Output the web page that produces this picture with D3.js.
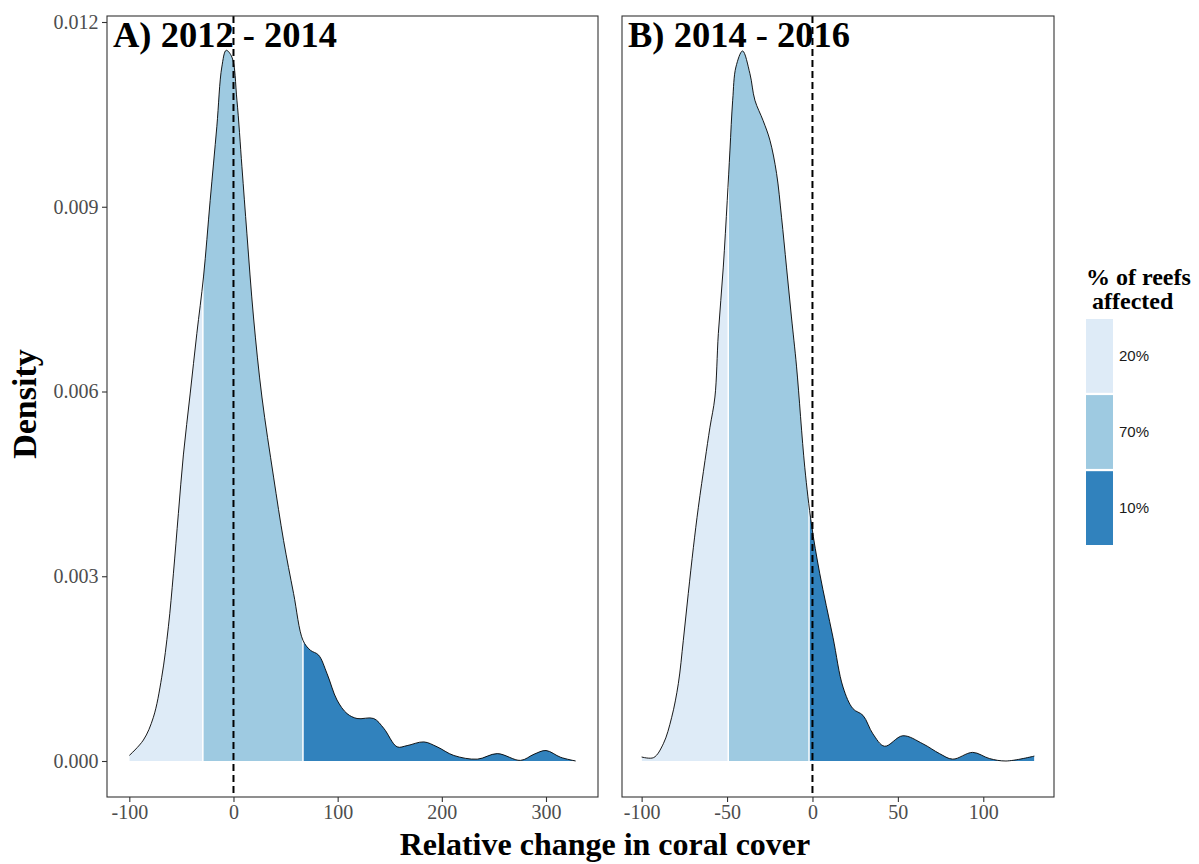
<html>
  <head>
    <style>
      body { margin: 0; background: #fff; }
      svg text { font-family: "Liberation Serif", "Times New Roman", serif; }
    </style>
  </head>
  <body>
    <svg></svg>
    <script src="https://d3js.org/d3.v7.min.js"></script>
    <script>
      let width = 1199,
        height = 864;

      // data
      const categories = ["20%", "70%", "10%"];
      const colors = ["#deebf7", "#9ecae1", "#3182bd"];
      const titles = ["A) 2012 - 2014", "B) 2014 - 2016"];
      const yTicks = [0, 0.003, 0.006, 0.009, 0.012];
      const xTicksA = [-100, 0, 100, 200, 300];
      const xTicksB = [-100, -50, 0, 50, 100];

      const changeA = [-100, -86.5, -76.9, -68.9, -62.5, -57.7, -52.9, -48.1, -41.6, -35.2,
        -28.8, -22.4, -16, -11.2, -7, -1.5, 3.3, 8.1, 12.9, 19.2, 27.3, 38.5, 48.1, 57.7,
        66.7, 73.7, 81.7, 89.8, 99.4, 109, 118.6, 134.6, 144.3, 157.1, 166.7, 182.7, 195.5,
        211.5, 234, 253.2, 275.6, 288.5, 300, 314.1, 328.5];
      const densityA = [0.00009, 0.00034, 0.00071, 0.00136, 0.00218, 0.00304, 0.00402,
        0.00497, 0.00596, 0.00694, 0.00786, 0.0091, 0.0103, 0.01127, 0.01154, 0.01143,
        0.01073, 0.00965, 0.00856, 0.00721, 0.00591, 0.00461, 0.00358, 0.00272, 0.00196,
        0.0018, 0.00172, 0.00142, 0.00099, 0.00077, 0.00069, 0.00069, 0.00053, 0.00023,
        0.00025, 0.00031, 0.00023, 0.00009, 0.00003, 0.00012, 0.00001, 0.00011, 0.00017,
        0.00006, 0.0];
      const breaksA = [-29.4, 66.7];

      const changeB = [-100, -93, -87.3, -82.4, -78.5, -75.6, -72.7, -69.7, -66.8, -62.9,
        -60, -57.1, -55.1, -52.2, -49.9, -48.3, -46.7, -44.8, -40.9, -36.6, -33.7, -28.9,
        -24.9, -21, -18.1, -15.2, -12.3, -9.3, -4.5, -0.6, 4.3, 12, 17.9, 23.7, 29.6, 35.4,
        42.2, 52.9, 64.6, 74.4, 82.1, 93.8, 103.6, 113.3, 129.9];
      const densityB = [0.000065, 0.000055, 0.00028, 0.00071, 0.00126, 0.00196, 0.00272,
        0.00347, 0.00412, 0.00488, 0.00542, 0.00591, 0.00694, 0.00802, 0.0091, 0.00992,
        0.01073, 0.01127, 0.01153, 0.01116, 0.01073, 0.0104, 0.01008, 0.00954, 0.00883,
        0.00802, 0.00721, 0.0064, 0.00477, 0.00385, 0.00304, 0.00201, 0.0012, 0.00085,
        0.00074, 0.00044, 0.00024, 0.00041, 0.00028, 0.00012, 0.00003, 0.00014, 0.00004,
        0.0, 0.00008];
      const breaksB = [-49.3, -2];

      let svg = d3.select("svg").attr("width", width).attr("height", height);

      let plotTop = 16, plotBottom = 797;
      let y = d3.scaleLinear().domain([0, 0.012]).range([761, 22]);

      let panels = [
        { left: 107, right: 598, xs: changeA, ds: densityA, breaks: breaksA, ticks: xTicksA, title: titles[0] },
        { left: 622, right: 1054, xs: changeB, ds: densityB, breaks: breaksB, ticks: xTicksB, title: titles[1] },
      ];

      panels.forEach((p, pi) => {
        // ggplot style 5% expansion
        let ext = d3.extent(p.xs);
        let pad = (ext[1] - ext[0]) * 0.05;
        let x = d3.scaleLinear().domain([ext[0] - pad, ext[1] + pad]).range([p.left, p.right]);
        let pts = p.xs.map((v, i) => [v, p.ds[i]]);
        let g = svg.append("g");
        let curve = d3.curveCatmullRom.alpha(0.5);

        let area = d3.area()
          .x((d) => x(d[0]))
          .y0(y(0))
          .y1((d) => y(d[1]))
          .curve(curve);
        let line = d3.line()
          .x((d) => x(d[0]))
          .y((d) => y(d[1]))
          .curve(curve);

        let edges = [ext[0]].concat(p.breaks, [ext[1]]);
        categories.forEach((c, i) => {
          let id = "clip" + pi + "_" + i;
          let x0 = x(edges[i]) + (i > 0 ? 0.75 : 0);
          let x1 = x(edges[i + 1]) - (i < 2 ? 0.75 : 0);
          svg.append("clipPath").attr("id", id)
            .append("rect")
            .attr("x", x0).attr("y", plotTop)
            .attr("width", x1 - x0).attr("height", plotBottom - plotTop);
          g.append("path")
            .datum(pts)
            .attr("d", area)
            .attr("fill", colors[i])
            .attr("clip-path", "url(#" + id + ")");
        });

        g.append("path")
          .datum(pts)
          .attr("d", line)
          .attr("fill", "none")
          .attr("stroke", "#000")
          .attr("stroke-width", 0.9);

        g.append("text")
          .attr("x", p.left + 6)
          .attr("y", 47)
          .attr("font-size", 36.5)
          .attr("font-weight", "bold")
          .text(p.title);

        g.append("line")
          .attr("x1", x(0)).attr("x2", x(0))
          .attr("y1", plotTop).attr("y2", plotBottom)
          .attr("stroke", "#000")
          .attr("stroke-width", 2)
          .attr("stroke-dasharray", "7,4");

        g.append("rect")
          .attr("x", p.left).attr("y", plotTop)
          .attr("width", p.right - p.left).attr("height", plotBottom - plotTop)
          .attr("fill", "none")
          .attr("stroke", "#333")
          .attr("stroke-width", 1.1);

        let xa = svg.append("g")
          .attr("transform", `translate(0,${plotBottom})`)
          .call(d3.axisBottom(x).tickValues(p.ticks).tickSize(5).tickPadding(3).tickFormat((d) => String(d)));
        xa.select(".domain").remove();
        xa.selectAll("line").attr("stroke", "#333").attr("stroke-width", 1.1);
        xa.selectAll("text").attr("font-size", 20).attr("fill", "#4d4d4d");

        if (pi === 0) {
          let ya = svg.append("g")
            .attr("transform", `translate(${p.left},0)`)
            .call(d3.axisLeft(y).tickValues(yTicks).tickSize(5).tickPadding(3.5).tickFormat(d3.format(".3f")));
          ya.select(".domain").remove();
          ya.selectAll("line").attr("stroke", "#333").attr("stroke-width", 1.1);
          ya.selectAll("text").attr("font-size", 20).attr("fill", "#4d4d4d");
        }
      });

      // axis titles
      svg.append("text")
        .attr("x", 605).attr("y", 855)
        .attr("text-anchor", "middle")
        .attr("font-size", 32)
        .attr("font-weight", "bold")
        .text("Relative change in coral cover");

      svg.append("text")
        .attr("transform", "translate(36,404) rotate(-90)")
        .attr("text-anchor", "middle")
        .attr("font-size", 34)
        .attr("font-weight", "bold")
        .text("Density");

      // legend
      let lg = svg.append("g");
      lg.append("text").attr("x", 1086).attr("y", 285)
        .attr("font-size", 24).attr("font-weight", "bold").text("% of reefs");
      lg.append("text").attr("x", 1086).attr("y", 309)
        .attr("font-size", 24).attr("font-weight", "bold")
        .attr("xml:space", "preserve").text(" affected");

      let keyY = d3.scaleBand().domain(categories).range([319, 545]).paddingInner(0.03);
      categories.forEach((c, i) => {
        lg.append("rect")
          .attr("x", 1086).attr("y", keyY(c))
          .attr("width", 27).attr("height", keyY.bandwidth())
          .attr("fill", colors[i]);
        lg.append("text")
          .attr("x", 1119).attr("y", keyY(c) + keyY.bandwidth() / 2 + 5)
          .style("font-family", "'Liberation Sans', Arial, sans-serif")
          .attr("font-size", 15)
          .attr("fill", "#1a1a1a")
          .text(c);
      });
    </script>
  </body>
</html>
